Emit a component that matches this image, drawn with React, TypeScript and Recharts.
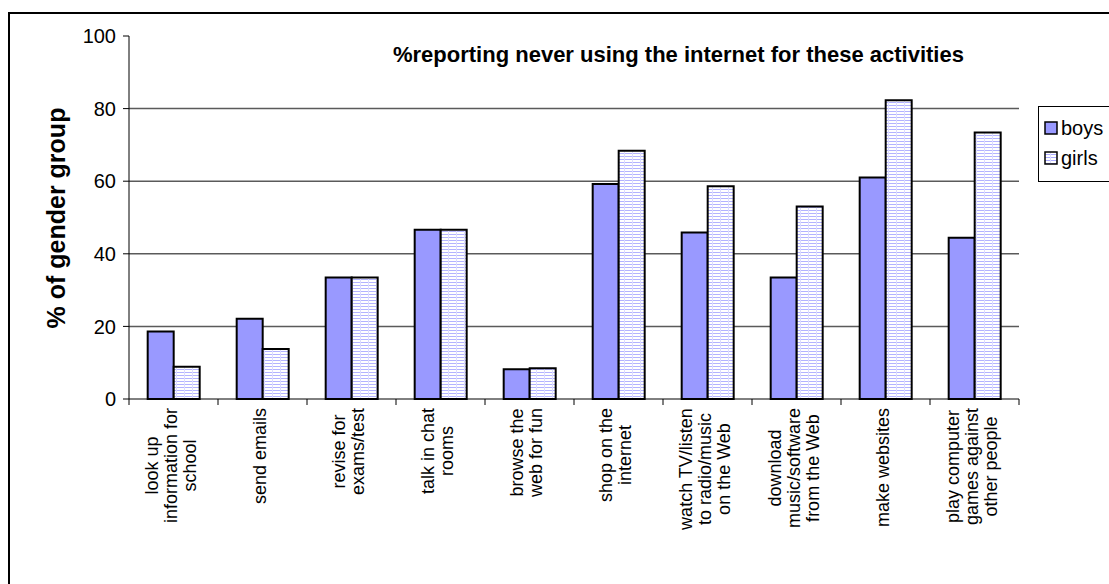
import React from "react";
import { BarChart, Bar, XAxis, YAxis, CartesianGrid } from "recharts";

const CATEGORIES = [
  "look up\ninformation for\nschool",
  "send emails",
  "revise for\nexams/test",
  "talk in chat\nrooms",
  "browse the\nweb for fun",
  "shop on the\ninternet",
  "watch TV/listen\nto radio/music\non the Web",
  "download\nmusic/software\nfrom the Web",
  "make websites",
  "play computer\ngames against\nother people",
];
const BOYS = [18.6, 22.1, 33.5, 46.6, 8.2, 59.2, 45.9, 33.5, 61.0, 44.4];
const GIRLS = [8.9, 13.8, 33.5, 46.6, 8.5, 68.4, 58.6, 53.0, 82.3, 73.4];
const Y_TICKS = [0, 20, 40, 60, 80, 100];
const GRID_VALUES = [20, 40, 60, 80];

const TITLE = "%reporting never using the internet for these activities";
const Y_LABEL = "% of gender group";

const FONT = "'Liberation Sans', Arial, sans-serif";
const W = 1109;
const H = 584;
const PLOT_LEFT = 129;
const PLOT_RIGHT = 1019;
const PLOT_TOP = 36;
const PLOT_BOTTOM = 399;
const BAND = (PLOT_RIGHT - PLOT_LEFT) / CATEGORIES.length;
const LABEL_SIZE = 18;
const LINE_H = 19;

const data = CATEGORIES.map((c, i) => ({ name: c, boys: BOYS[i], girls: GIRLS[i] }));

let ctx: CanvasRenderingContext2D | null = null;
function measure(s: string) {
  if (!ctx) {
    ctx = document.createElement("canvas").getContext("2d");
    if (ctx) ctx.font = `${LABEL_SIZE}px 'Liberation Sans'`;
  }
  return ctx ? ctx.measureText(s).width : s.length * 9;
}

// eslint-disable-next-line @typescript-eslint/no-explicit-any
function XTick({ x, y, payload, index }: any) {
  const lines = String(payload.value).split("\n");
  const longest = Math.max(...lines.map(measure));
  const half = BAND / 2;
  return (
    <g>
      <line x1={x - half} x2={x - half} y1={y} y2={y + 6} stroke="#000" />
      {index === CATEGORIES.length - 1 && (
        <line x1={x + half} x2={x + half} y1={y} y2={y + 6} stroke="#000" />
      )}
      <g transform={`translate(${x - 3},${y + 9}) rotate(-90)`}>
        {lines.map((ln, i) => (
          <text
            key={i}
            x={-longest / 2}
            y={(i - (lines.length - 1) / 2) * LINE_H}
            textAnchor="middle"
            dominantBaseline="central"
            fontSize={LABEL_SIZE}
            fontFamily={FONT}
            fill="#000"
          >
            {ln}
          </text>
        ))}
      </g>
    </g>
  );
}

function Swatch({ fill }: { fill: string }) {
  return (
    <svg width={14} height={14} style={{ display: "block" }}>
      <defs>
        <pattern id="girlsSwatch" width={6} height={3} patternUnits="userSpaceOnUse">
          <rect width={6} height={3} fill="#fff" />
          <rect width={6} height={1} fill="#aaaaff" />
          <rect width={1} height={3} fill="#ddddff" />
        </pattern>
      </defs>
      <rect x={1} y={1} width={12} height={12} fill={fill} stroke="#000" strokeWidth={1.5} />
    </svg>
  );
}

export default function App() {
  return (
    <div style={{ position: "absolute", left: 0, top: 0, width: W, height: H, overflow: "hidden", background: "#fff", fontFamily: FONT }}>
      <div style={{ position: "absolute", left: 8, top: 12, width: W, height: H, border: "2px solid #000", boxSizing: "border-box" }} />
      <div style={{ position: "absolute", left: 0, top: 0 }}>
        <BarChart
          width={W}
          height={H}
          data={data}
          margin={{ top: PLOT_TOP, right: W - PLOT_RIGHT, bottom: H - PLOT_BOTTOM - 150, left: 0 }}
          barCategoryGap="21%"
          barGap={0}
        >
          <defs>
            <pattern id="girlsPattern" width={8} height={3} patternUnits="userSpaceOnUse">
              <rect width={8} height={3} fill="#fff" />
              <rect width={8} height={1} fill="#b3b3ff" />
              <rect width={1} height={3} fill="#dcdcff" />
            </pattern>
          </defs>
          <CartesianGrid
            vertical={false}
            horizontalValues={GRID_VALUES}
            stroke="#5a5a5a"
            strokeWidth={1.5}
          />
          <XAxis
            dataKey="name"
            height={150}
            interval={0}
            tickLine={false}
            tickSize={0}
            tickMargin={0}
            axisLine={{ stroke: "#000", strokeWidth: 1 }}
            tick={<XTick />}
          />
          <YAxis
            width={PLOT_LEFT}
            domain={[0, 100]}
            ticks={Y_TICKS}
            interval={0}
            axisLine={{ stroke: "#000", strokeWidth: 1 }}
            tickLine={{ stroke: "#000" }}
            tickSize={6}
            tickMargin={7}
            tick={{ fill: "#000", fontSize: 20, fontFamily: FONT }}
          />
          <Bar dataKey="boys" fill="#9999ff" stroke="#000" strokeWidth={2} isAnimationActive={false} />
          <Bar dataKey="girls" fill="url(#girlsPattern)" stroke="#000" strokeWidth={2} isAnimationActive={false} />
        </BarChart>
      </div>
      <div style={{ position: "absolute", left: 393, top: 55, transform: "translateY(-50%)", fontSize: 22, fontWeight: "bold", whiteSpace: "nowrap", color: "#000" }}>
        {TITLE}
      </div>
      <div style={{ position: "absolute", left: 56, top: 218, transform: "translate(-50%, -50%) rotate(-90deg)", fontSize: 25, fontWeight: "bold", whiteSpace: "nowrap", color: "#000" }}>
        {Y_LABEL}
      </div>
      <div style={{ position: "absolute", left: 1038, top: 106, width: 100, height: 76, border: "1.5px solid #000", boxSizing: "border-box", background: "#fff" }}>
        {[{ name: "boys", fill: "#9999ff" }, { name: "girls", fill: "url(#girlsSwatch)" }].map((it, i) => (
          <div key={it.name} style={{ position: "absolute", left: 5, top: 10 + i * 30, display: "flex", alignItems: "center", gap: 3, fontSize: 20, lineHeight: "22px" }}>
            <Swatch fill={it.fill} />
            <span>{it.name}</span>
          </div>
        ))}
      </div>
    </div>
  );
}
